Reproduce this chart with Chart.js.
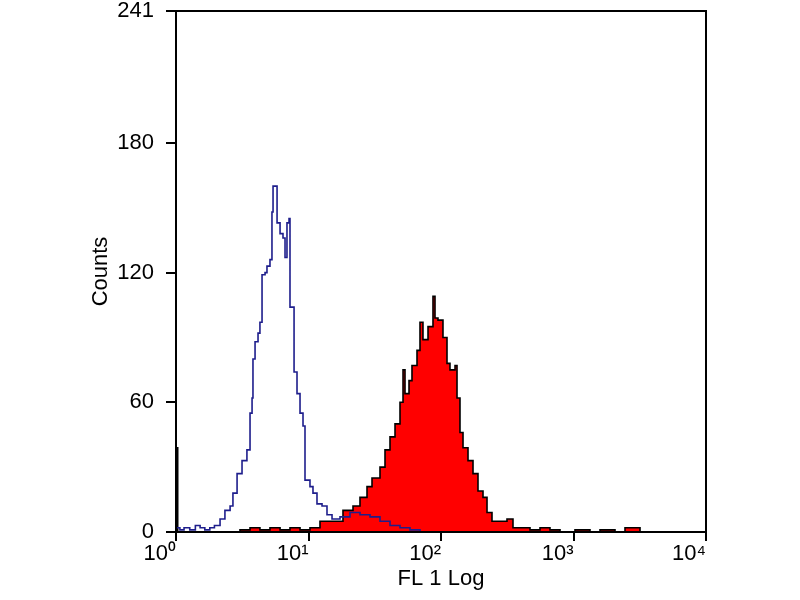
<!DOCTYPE html>
<html>
<head>
<meta charset="utf-8">
<script src="https://cdn.jsdelivr.net/npm/chart.js@4"></script>
<style>
  body { margin: 0; background: #fff; }
</style>
</head>
<body>
<canvas id="myChart" width="800" height="600"></canvas>
<script>
// isotype control (blue outline), fluorescence value -> counts
const isoX = [1.00, 1.07, 1.15, 1.27, 1.40, 1.52, 1.65, 1.80, 1.95, 2.15, 2.34, 2.56, 2.69, 2.89, 3.15, 3.43,
  3.62, 3.75, 3.81, 3.95, 4.16, 4.30, 4.46, 4.70, 4.86, 5.12, 5.30, 5.40, 5.79, 6.10, 6.42, 6.65, 6.88, 7.13,
  7.25, 7.78, 8.19, 8.63, 9.09, 9.41, 10.26, 10.81, 11.59, 12.65, 13.79, 15.05, 17.29, 20.57, 24.47, 29.12,
  34.64, 41.22, 49.05, 58.34, 69.42];
const isoY = [2, 1, 2, 1, 3, 2, 1, 2, 3, 6, 10, 12, 18, 27, 33, 38,
  55, 62, 80, 88, 92, 97, 119, 120, 123, 126, 148, 160, 143, 138, 136, 127, 143, 145,
  104, 74, 64, 55, 49, 24, 21, 18, 13, 12, 8, 6, 7, 9, 8, 7,
  5, 3, 2, 1, 0];

// stained sample (red filled)
const stainX = [1.00, 1.03, 1.52, 3.04, 3.62, 4.30, 5.12, 6.10, 7.25, 8.63, 10.26, 12.21, 18.21, 21.67, 24.47,
  27.64, 30.15, 34.64, 37.79, 41.22, 44.97, 49.05, 51.68, 53.5, 57.35, 60.4, 65.9, 69.42, 73.1, 79.8, 87.0,
  90.1, 94.9, 103.5, 111.0, 116.9, 127.6, 132.1, 139.1, 146.6, 159.9, 174.4, 190.2, 207.5, 222.5, 242.6,
  278.8, 314.8, 349.4, 394.8, 469.6, 558.8, 664.5, 791.2, 1026, 1332, 1585, 2057, 2447, 3177];
const stainY = [39, 0, 0, 1, 2, 1, 2, 1, 2, 1, 2, 5, 10, 12, 16,
  21, 25, 30, 38, 44, 50, 60, 75, 64, 70, 77, 84, 97, 89, 95, 109,
  99, 98, 90, 78, 75, 77, 62, 46, 39, 33, 27, 19, 16, 9, 5,
  5, 6, 2, 2, 1, 2, 1, 0, 1, 0, 1, 0, 2, 0];

const xTicks = [1, 10, 100, 1000, 10000];
const xTickLabels = ["10\u2070", "10\u00B9", "10\u00B2", "10\u00B3", "10\u2074"];
const yTicks = [0, 60, 120, 180, 241];

const toPoints = (xs, ys) => xs.map((x, i) => ({ x: x, y: ys[i] }));

const boxPlugin = {
  id: "box",
  afterDraw(chart) {
    const a = chart.chartArea;
    const ctx = chart.ctx;
    ctx.save();
    ctx.strokeStyle = "#000";
    ctx.lineWidth = 2;
    ctx.strokeRect(a.left, a.top, a.right - a.left, a.bottom - a.top);
    ctx.restore();
  }
};

const font = { family: "'Liberation Sans', Arial, sans-serif", size: 22 };

new Chart("myChart", {
  type: "line",
  data: {
    datasets: [
      {
        data: toPoints(isoX, isoY),
        borderColor: "#1e1e8c",
        borderWidth: 1.6,
        stepped: true,
        fill: false,
        pointRadius: 0
      },
      {
        data: toPoints(stainX, stainY),
        borderColor: "#000",
        backgroundColor: "#ff0000",
        borderWidth: 1.6,
        stepped: true,
        fill: "origin",
        pointRadius: 0
      }
    ]
  },
  plugins: [boxPlugin],
  options: {
    responsive: false,
    animation: false,
    layout: { padding: { left: 88, right: 94, top: 11, bottom: 0 } },
    plugins: { legend: { display: false }, tooltip: { enabled: false } },
    scales: {
      x: {
        type: "logarithmic",
        min: 1,
        max: 10000,
        afterBuildTicks: (s) => { s.ticks = xTicks.map(v => ({ value: v })); },
        afterFit: (s) => { s.height = 68; s.paddingLeft = 0; s.paddingRight = 0; },
        ticks: {
          color: "#000",
          font: font,
          padding: 0,
          align: "end",
          maxRotation: 0,
          autoSkip: false,
          callback: (v) => xTickLabels[xTicks.indexOf(v)]
        },
        grid: { drawOnChartArea: false, color: "#000", lineWidth: 2, tickLength: 9 },
        border: { color: "#000", width: 2 },
        title: { display: true, text: "FL 1 Log", color: "#000", font: font, padding: { top: 0, bottom: 8 } }
      },
      y: {
        min: 0,
        max: 241,
        afterBuildTicks: (s) => { s.ticks = yTicks.map(v => ({ value: v })); },
        afterFit: (s) => { s.width = 88; s.paddingTop = 0; s.paddingBottom = 0; },
        ticks: { color: "#000", font: font, padding: 12, autoSkip: false },
        grid: { drawOnChartArea: false, color: "#000", lineWidth: 2, tickLength: 10 },
        border: { color: "#000", width: 2 },
        title: { display: true, text: "Counts", color: "#000", font: font, padding: { top: 0, bottom: 0 } }
      }
    }
  }
});
</script>
</body>
</html>
